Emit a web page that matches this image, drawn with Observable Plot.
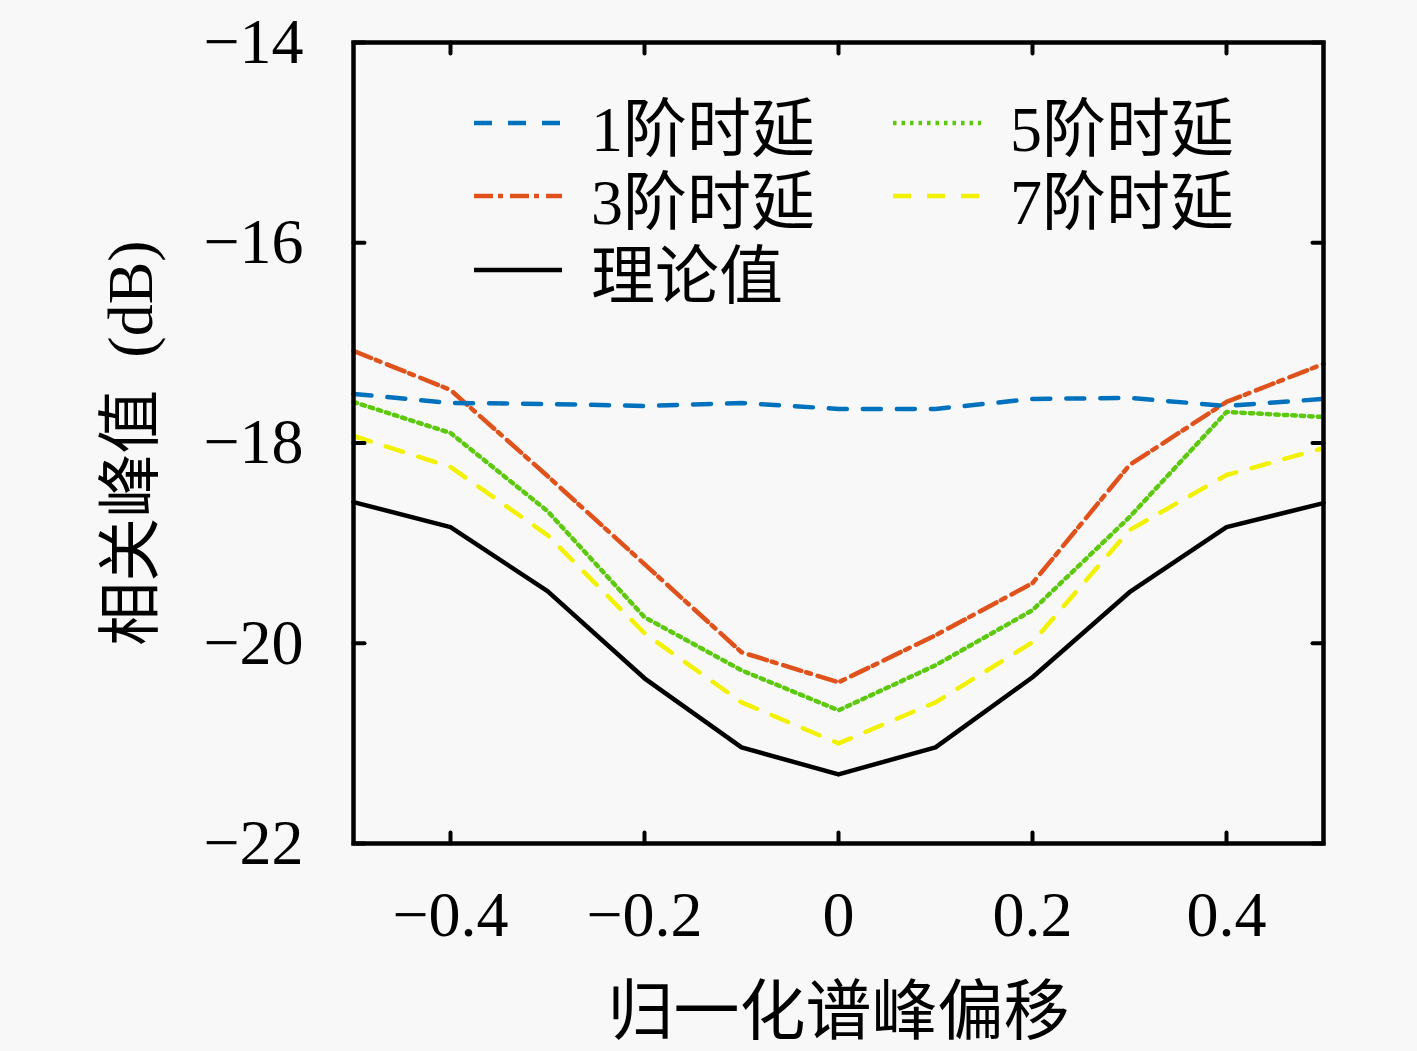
<!DOCTYPE html>
<html>
<head>
<meta charset="utf-8">
<script src="https://cdn.jsdelivr.net/npm/d3@7"></script>
<script src="https://cdn.jsdelivr.net/npm/@observablehq/plot@0.6"></script>
<style>
  html, body { margin: 0; padding: 0; background: #f8f8f8; }
  #wrap { position: relative; width: 1417px; height: 1051px; overflow: hidden; }
  #wrap svg.plot { position: absolute; left: 0; top: 0; }
  .leg { position: absolute; display: flex; align-items: center; height: 80px; margin-top: -40px;
         font-family: "Liberation Serif", "Noto Sans CJK SC", serif; font-size: 64px; color: #000; white-space: nowrap; }
  .leg svg { display: block; margin-right: 29px; }
</style>
</head>
<body>
<div id="wrap"></div>
<script>
// ---- data ----
const offsets = [-0.5, -0.4, -0.3, -0.2, -0.1, 0, 0.1, 0.2, 0.3, 0.4, 0.5];
const delay1 = [-17.51, -17.60, -17.61, -17.63, -17.60, -17.66, -17.66, -17.56, -17.55, -17.63, -17.56];
const delay3 = [-17.08, -17.47, -18.33, -19.21, -20.09, -20.39, -19.92, -19.40, -18.22, -17.59, -17.21];
const delay5 = [-17.59, -17.90, -18.68, -19.74, -20.27, -20.67, -20.22, -19.67, -18.74, -17.69, -17.74];
const delay7 = [-17.93, -18.24, -18.92, -19.90, -20.59, -21.00, -20.59, -19.99, -18.87, -18.32, -18.05];
const theory = [-18.59, -18.84, -19.48, -20.35, -21.04, -21.31, -21.04, -20.34, -19.49, -18.84, -18.60];
const seriesNames = ["1阶时延", "3阶时延", "5阶时延", "7阶时延", "理论值"];
const xTicks = [-0.4, -0.2, 0, 0.2, 0.4];
const yTicks = [-22, -20, -18, -16, -14];
const xLabel = "归一化谱峰偏移";
const yLabel = "相关峰值\u2002(dB)";

// ---- styles ----
const styles = {
  "1阶时延": {stroke: "#0072bd", dash: "18,16"},
  "3阶时延": {stroke: "#e0521b", dash: "19,5,5,7"},
  "5阶时延": {stroke: "#5cc80e", dash: "3.5,5"},
  "7阶时延": {stroke: "#f2f200", dash: "18,16"},
  "理论值": {stroke: "#000000", dash: null}
};
const valuesBy = {"1阶时延": delay1, "3阶时延": delay3, "5阶时延": delay5, "7阶时延": delay7, "理论值": theory};
const drawOrder = ["理论值", "7阶时延", "5阶时延", "3阶时延", "1阶时延"];

const fmt = d => d === 0 ? "0" : (d < 0 ? "\u2212" : "") + Math.abs(d);
const tickShape = {draw(ctx, l) { ctx.moveTo(0, 0); ctx.lineTo(0, -l); }};

const lineMarks = drawOrder.map(name => {
  const vals = valuesBy[name];
  const data = offsets.map((x, i) => ({x, y: vals[i]}));
  return Plot.line(data, {x: "x", y: "y", stroke: styles[name].stroke, strokeWidth: 4.5,
    strokeDasharray: styles[name].dash, strokeLinejoin: "round"});
});

const plot = Plot.plot({
  width: 1417, height: 1051,
  marginLeft: 353, marginRight: 94, marginTop: 42, marginBottom: 208,
  style: {background: "transparent", fontFamily: "'Liberation Serif','Noto Sans CJK SC',serif", color: "#000"},
  x: {domain: [-0.5, 0.5]},
  y: {domain: [-22, -14]},
  marks: [
    ...lineMarks,
    Plot.axisX(xTicks, {tickSize: 0, tickPadding: 47, fontSize: 64, tickFormat: fmt, label: null}),
    Plot.axisY(yTicks, {tickSize: 0, tickPadding: 50, fontSize: 64, tickFormat: fmt, label: null}),
    Plot.vector(xTicks, {x: d => d, frameAnchor: "bottom", length: 11, anchor: "start", shape: tickShape, strokeWidth: 4, stroke: "#000"}),
    Plot.vector(xTicks, {x: d => d, frameAnchor: "top", length: 11, rotate: 180, anchor: "start", shape: tickShape, strokeWidth: 4, stroke: "#000"}),
    Plot.vector(yTicks, {y: d => d, frameAnchor: "left", length: 11, rotate: 90, anchor: "start", shape: tickShape, strokeWidth: 4, stroke: "#000"}),
    Plot.vector(yTicks, {y: d => d, frameAnchor: "right", length: 11, rotate: -90, anchor: "start", shape: tickShape, strokeWidth: 4, stroke: "#000"}),
    Plot.frame({stroke: "#000", strokeWidth: 4.5}),
    Plot.text([xLabel], {text: d => d, frameAnchor: "bottom", dy: 169, lineAnchor: "middle", textAnchor: "middle", fontSize: 66}),
    Plot.text([yLabel], {text: d => d, frameAnchor: "left", dx: -222, rotate: -90, lineAnchor: "middle", textAnchor: "middle", fontSize: 64})
  ]
});
const wrap = document.getElementById("wrap");
wrap.appendChild(plot);

// ---- legend (overlay inside plot frame) ----
const legendPos = [
  {name: "1阶时延", left: 474, top: 123},
  {name: "3阶时延", left: 474, top: 196},
  {name: "理论值", left: 474, top: 270},
  {name: "5阶时延", left: 893, top: 123},
  {name: "7阶时延", left: 893, top: 196}
];
for (const p of legendPos) {
  const st = styles[p.name];
  const div = document.createElement("div");
  div.className = "leg";
  div.style.left = p.left + "px";
  div.style.top = p.top + "px";
  div.innerHTML = `<svg width="88" height="12"><line x1="0" y1="6" x2="88" y2="6" stroke="${st.stroke}" stroke-width="4.5" ${st.dash ? `stroke-dasharray="${st.dash}"` : ""}/></svg><span>${p.name}</span>`;
  wrap.appendChild(div);
}
</script>
</body>
</html>
